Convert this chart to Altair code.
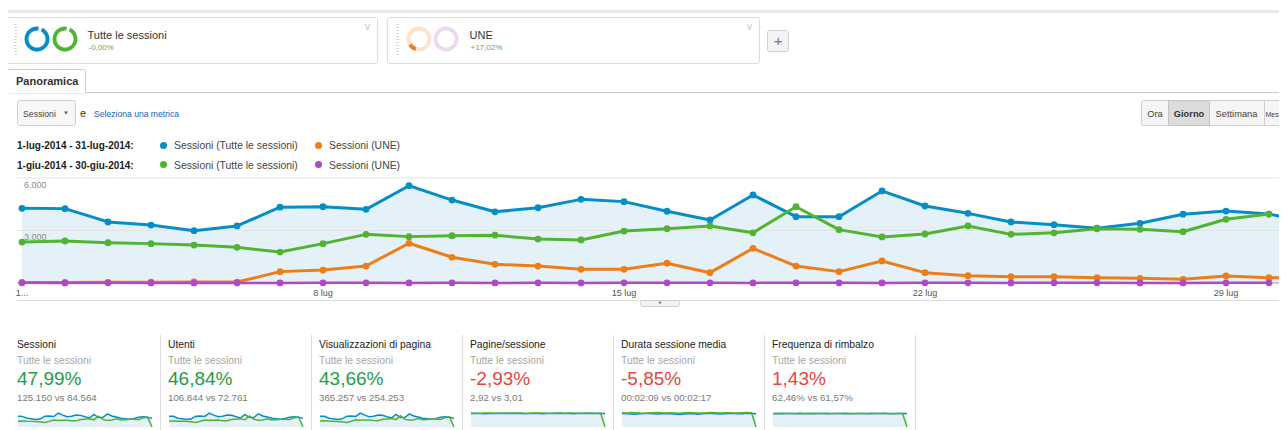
import altair as alt
import pandas as pd

# ---------------- data ----------------
DAYS = list(range(1, 32))

# Sessioni (Tutte le sessioni), 1-31 luglio 2014
SESS_JUL = [4270, 4250, 3490, 3310, 2990, 3260, 4330, 4360, 4210, 5560, 4740,
            4070, 4300, 4780, 4650, 4100, 3600, 5030, 3790, 3790, 5260, 4400,
            3980, 3490, 3330, 3130, 3410, 3930, 4110, 3940, 3440]
# Sessioni (Tutte le sessioni), 1-30 giugno 2014
SESS_JUN = [2340, 2400, 2300, 2250, 2170, 2040, 1770, 2250, 2780, 2650, 2700,
            2730, 2510, 2460, 2970, 3100, 3260, 2870, 4360, 3050, 2630, 2800,
            3260, 2780, 2870, 3100, 3070, 2930, 3640, 3940]
# Sessioni (UNE), luglio
UNE_JUL = [30, 35, 40, 50, 60, 55, 650, 740, 970, 2270, 1470, 1070, 970, 780,
           780, 1130, 590, 1980, 970, 650, 1260, 590, 420, 360, 360, 300, 270,
           210, 400, 300, 290]
# Sessioni (UNE), giugno
UNE_JUN = [8, 6, 9, 7, 5, 6, 4, 8, 10, 7, 9, 6, 8, 7, 9, 11, 8, 6, 12, 9, 7, 8,
           10, 7, 9, 8, 6, 7, 10, 9]

PERIODS = ["1-lug-2014 - 31-lug-2014:", "1-giu-2014 - 30-giu-2014:"]
SERIES = ["Sessioni (Tutte le sessioni)", "Sessioni (UNE)"]
Y_TICKS = [3000, 6000]
Y_TICK_LABELS = ["3.000", "6.000"]
X_TICKS = [1, 8, 15, 22, 29]
X_TICK_LABELS = ["1...", "8 lug", "15 lug", "22 lug", "29 lug"]

SEGMENTS = ["Tutte le sessioni", "UNE"]
SEGMENT_CHANGES = ["-0,00%", "+17,02%"]

CARD_TITLES = ["Sessioni", "Utenti", "Visualizzazioni di pagina",
               "Pagine/sessione", "Durata sessione media", "Frequenza di rimbalzo"]
CARD_PCTS = ["47,99%", "46,84%", "43,66%", "-2,93%", "-5,85%", "1,43%"]
CARD_VS = ["125.150 vs 84.564", "106.844 vs 72.761", "365.257 vs 254.253",
           "2,92 vs 3,01", "00:02:09 vs 00:02:17", "62,46% vs 61,57%"]
CARD_GOOD = [True, True, True, False, False, False]

# sparkline series (luglio / giugno; giugno has no 31st day -> 0)
USERS_JUL = [3640, 3620, 2980, 2820, 2550, 2780, 3690, 3720, 3590, 4740, 4040,
             3470, 3670, 4080, 3970, 3500, 3070, 4290, 3230, 3230, 4490, 3750,
             3390, 2980, 2840, 2670, 2910, 3350, 3510, 3360, 2930]
USERS_JUN = [2010, 2060, 1980, 1930, 1870, 1750, 1520, 1930, 2390, 2280, 2320,
             2350, 2160, 2120, 2550, 2670, 2800, 2470, 3750, 2620, 2260, 2410,
             2800, 2390, 2470, 2670, 2640, 2520, 3130, 3390, 0]
PV_JUL = [12470, 12410, 10190, 9670, 8730, 9520, 12640, 12730, 12290, 16240,
          13840, 11880, 12560, 13960, 13580, 11970, 10510, 14690, 11070, 11070,
          15360, 12850, 11620, 10190, 9720, 9140, 9960, 11480, 12000, 11500, 10040]
PV_JUN = [7040, 7220, 6920, 6770, 6530, 6140, 5330, 6770, 8370, 7980, 8130, 8220,
          7560, 7400, 8940, 9330, 9810, 8640, 13120, 9180, 7920, 8430, 9810, 8370,
          8640, 9330, 9240, 8820, 10960, 11860, 0]
PS_JUL = [2.95, 2.93, 2.90, 2.88, 2.91, 2.94, 2.96, 2.93, 2.90, 2.97, 2.94, 2.92,
          2.89, 2.91, 2.95, 2.93, 2.88, 2.90, 2.92, 2.94, 2.96, 2.93, 2.91, 2.89,
          2.90, 2.92, 2.95, 2.93, 2.90, 2.94, 2.91]
PS_JUN = [3.02, 3.00, 2.99, 3.01, 3.03, 3.00, 2.98, 3.01, 3.02, 3.00, 3.03, 3.01,
          2.99, 3.00, 3.02, 3.04, 3.01, 2.99, 3.00, 3.02, 3.01, 3.00, 3.03, 3.01,
          2.99, 3.00, 3.02, 3.01, 3.00, 3.02, 0]
DUR_JUL = [131, 128, 126, 124, 127, 130, 133, 129, 125, 128, 131, 127, 124, 122,
           126, 129, 127, 124, 128, 131, 133, 129, 126, 128, 131, 130, 127, 129,
           132, 130, 128]
DUR_JUN = [138, 136, 139, 137, 135, 134, 136, 138, 140, 137, 135, 138, 136, 134,
           137, 139, 138, 136, 135, 137, 139, 138, 136, 137, 138, 136, 135, 137,
           139, 138, 0]
BR_JUL = [62.1, 62.5, 62.8, 62.3, 62.0, 62.6, 62.9, 62.4, 62.2, 62.7, 62.5, 62.3,
          62.8, 62.6, 62.1, 62.4, 62.9, 62.5, 62.3, 62.6, 62.2, 62.4, 62.7, 62.5,
          62.3, 62.8, 62.6, 62.4, 62.2, 62.5, 62.6]
BR_JUN = [61.4, 61.7, 61.5, 61.8, 61.6, 61.3, 61.9, 61.5, 61.7, 61.4, 61.6, 61.8,
          61.5, 61.3, 61.7, 61.6, 61.4, 61.8, 61.5, 61.7, 61.6, 61.4, 61.5, 61.8,
          61.6, 61.7, 61.5, 61.4, 61.6, 61.7, 0]

SPARK_JUL = [SESS_JUL, USERS_JUL, PV_JUL, PS_JUL, DUR_JUL, BR_JUL]
SPARK_JUN = [SESS_JUN + [0], USERS_JUN, PV_JUN, PS_JUN, DUR_JUN, BR_JUN]
SPARK_MAX = [6000, 5100, 17500, 3.25, 145, 69]

# ---------------- styles ----------------
FONT = "Liberation Sans, Arial, Helvetica, sans-serif"
BLUE, ORANGE, GREEN, PURPLE = "#058dc7", "#ed7e17", "#50b432", "#af49c5"
AREA = "#e4f1f9"
GOOD, BAD = "#1f9e44", "#e8453c"
OX, OY = 8, 8  # page margin offset
ONE = pd.DataFrame({"k": [0]})


def T(s, x, y, size=10.0, color="#333333", weight="normal", align="left"):
    return alt.Chart(ONE).mark_text(
        text=s, font=FONT, fontSize=size, color=color, fontWeight=weight,
        align=align, baseline="alphabetic"
    ).encode(x=alt.value(x - OX), y=alt.value(y - OY))


def R(x1, y1, x2, y2, fill="#ffffff", stroke=None, sw=1.0, radius=0):
    kw = {"fill": fill, "cornerRadius": radius}
    if stroke:
        kw["stroke"] = stroke
        kw["strokeWidth"] = sw
    return alt.Chart(ONE).mark_rect(**kw).encode(
        x=alt.value(x1 - OX), x2=alt.value(x2 - OX),
        y=alt.value(y1 - OY), y2=alt.value(y2 - OY))


def HL(x1, x2, y, color, sw=1.0):
    return alt.Chart(ONE).mark_rule(color=color, strokeWidth=sw).encode(
        x=alt.value(x1 - OX), x2=alt.value(x2 - OX), y=alt.value(y - OY))


def VL(x, y1, y2, color, sw=1.0, dash=None):
    kw = {"color": color, "strokeWidth": sw}
    if dash:
        kw["strokeDash"] = dash
    return alt.Chart(ONE).mark_rule(**kw).encode(
        x=alt.value(x - OX), y=alt.value(y1 - OY), y2=alt.value(y2 - OY))


def RING(cx, cy, color, t1=0.45, t2=6.43, ro=12.5, ri=8.6):
    return alt.Chart(ONE).mark_arc(
        radius=ro, radius2=ri, theta=t1, theta2=t2, color=color
    ).encode(x=alt.value(cx - OX), y=alt.value(cy - OY))


def DOT(cx, cy, color, size=49):
    return alt.Chart(ONE).mark_circle(size=size, color=color, opacity=1).encode(
        x=alt.value(cx - OX), y=alt.value(cy - OY))


def TRI(cx, cy, color="#555555", size=16):
    return alt.Chart(ONE).mark_point(
        shape="triangle-down", filled=True, size=size, color=color, opacity=1
    ).encode(x=alt.value(cx - OX), y=alt.value(cy - OY))


chrome = []
# top band
chrome.append(R(0, 10, 1287, 13, fill="#e8e8e8"))
# segment boxes
for bx, name, chg in [(5.5, SEGMENTS[0], SEGMENT_CHANGES[0]),
                      (387.5, SEGMENTS[1], SEGMENT_CHANGES[1])]:
    chrome.append(R(bx, 17.5, bx + 372, 63.5, fill="#ffffff", stroke="#dcdcdc", radius=2))
    chrome.append(VL(bx + 10, 24, 57, "#d6d6d6", sw=3, dash=[1, 2]))
    chrome.append(T(name, bx + 82, 39, 11, "#333333"))
    chrome.append(T(chg, bx + 83, 50, 8, "#6aa84f"))
    chrome.append(T("v", bx + 362, 30, 10, "#c4c4c4", align="center"))
chrome += [RING(37, 39, BLUE), RING(65, 39, GREEN),
           RING(419, 39, "#fde3cc", 0, 6.2832), RING(419, 39, ORANGE, 3.45, 4.15),
           RING(446, 39, "#ecd8f1", 0, 6.2832)]
chrome.append(R(767.5, 30.5, 788.5, 51.5, fill="#f3f3f3", stroke="#d0d0d0", radius=2))
chrome.append(T("+", 778, 45.5, 15, "#777777", align="center"))
# tab
chrome.append(HL(0, 1287, 92.5, "#cccccc"))
chrome.append(R(7.5, 69.5, 85.5, 93, fill="#ffffff", stroke="#cccccc", radius=2))
chrome.append(HL(8, 85, 92.5, "#ffffff", sw=1.5))
chrome.append(T("Panoramica", 16, 85, 11, "#333333", weight="bold"))
# metric selector
chrome.append(R(17.5, 100.5, 75.5, 125.5, fill="#f7f7f7", stroke="#d0d0d0", radius=2))
chrome.append(T("Sessioni", 23, 116.5, 8.7, "#444444"))
chrome.append(TRI(66, 113, "#555555", 14))
chrome.append(T("e", 80, 116.5, 11, "#333333"))
chrome.append(T("Seleziona una metrica", 94, 116.5, 8.6, "#1a62b8"))
# period buttons
chrome.append(R(1141.5, 100.5, 1295, 125.5, fill="#f5f5f5", stroke="#cfcfcf", radius=2))
chrome.append(R(1168.5, 100.5, 1209.5, 125.5, fill="#dcdcdc", stroke="#c4c4c4"))
chrome.append(VL(1264.5, 100.5, 125.5, "#cfcfcf"))
chrome.append(T("Ora", 1155, 116.5, 9.3, "#444444", align="center"))
chrome.append(T("Giorno", 1189, 116.5, 9.3, "#333333", weight="bold", align="center"))
chrome.append(T("Settimana", 1236.5, 116.5, 9.3, "#444444", align="center"))
chrome.append(T("Mes", 1265.5, 116.5, 7.0, "#444444"))
# legend
chrome.append(T(PERIODS[0], 17, 149, 10, "#222222", weight="bold"))
chrome.append(T(PERIODS[1], 17, 168.5, 10, "#222222", weight="bold"))
chrome += [DOT(163.5, 145.5, BLUE), DOT(318.5, 145.5, ORANGE),
           DOT(163.5, 164.5, GREEN), DOT(318.5, 164.5, PURPLE)]
chrome.append(T(SERIES[0], 174, 149, 10.4, "#444444"))
chrome.append(T(SERIES[1], 329, 149, 10.4, "#444444"))
chrome.append(T(SERIES[0], 174, 168.5, 10.4, "#444444"))
chrome.append(T(SERIES[1], 329, 168.5, 10.4, "#444444"))
# chart footer separator + handle
chrome.append(HL(17, 1287, 300.5, "#dddddd"))
chrome.append(R(640.5, 300.5, 679.5, 306.5, fill="#f2f2f2", stroke="#d0d0d0", radius=2))
chrome.append(TRI(660, 303, "#666666", 10))
# metric cards
for i in range(6):
    x0 = 17 + 151 * i
    chrome.append(T(CARD_TITLES[i], x0, 348, 10.3, "#222222"))
    chrome.append(T("Tutte le sessioni", x0, 364, 10.3, "#a6a6a6"))
    chrome.append(T(CARD_PCTS[i], x0, 385, 19, GOOD if CARD_GOOD[i] else BAD))
    chrome.append(T(CARD_VS[i], x0, 401, 9.7, "#7a7a7a"))
    chrome.append(VL(160.5 + 151 * i, 335, 430, "#dddddd"))

# ---------------- main chart ----------------
xs = alt.Scale(domain=[1, 31], range=[22 - OX, 1312 - OX], nice=False, zero=False)
ys = alt.Scale(domain=[0, 6000], range=[283 - OY, 178 - OY], nice=False, zero=False)
XE = alt.X("day:Q", scale=xs, axis=None)
YE = alt.Y("v:Q", scale=ys, axis=None)

df_bj = pd.DataFrame({"day": DAYS, "v": SESS_JUL})
df_gj = pd.DataFrame({"day": DAYS[:30], "v": SESS_JUN})
df_oj = pd.DataFrame({"day": DAYS, "v": UNE_JUL})
df_pj = pd.DataFrame({"day": DAYS[:30], "v": UNE_JUN})
df_yt = pd.DataFrame({"v": Y_TICKS, "lab": Y_TICK_LABELS})
df_xt = pd.DataFrame({"day": X_TICKS, "lab": X_TICK_LABELS})


def series(df, color, sw=3.0, size=46):
    line = alt.Chart(df).mark_line(color=color, strokeWidth=sw, strokeJoin="round",
                                   strokeCap="round").encode(x=XE, y=YE)
    pts = alt.Chart(df).mark_circle(color=color, size=size, opacity=1).encode(x=XE, y=YE)
    return [line, pts]


main_layers = [
    alt.Chart(df_bj).mark_area(color=AREA, opacity=1).encode(x=XE, y=YE),
    alt.Chart(df_yt).mark_rule(color="#e3e3e3", strokeWidth=1).encode(
        y=alt.Y("v:Q", scale=ys, axis=None), x=alt.value(17 - OX), x2=alt.value(1287 - OX)),
    alt.Chart(pd.DataFrame({"v": [0]})).mark_rule(color="#9a9a9a", strokeWidth=1).encode(
        y=alt.Y("v:Q", scale=ys, axis=None), x=alt.value(17 - OX), x2=alt.value(1287 - OX)),
    alt.Chart(df_yt).mark_text(font=FONT, fontSize=9, color="#8a8a8a", align="left",
                               baseline="alphabetic", dy=9.5).encode(
        y=alt.Y("v:Q", scale=ys, axis=None), x=alt.value(24 - OX), text="lab:N"),
    alt.Chart(df_xt).mark_text(font=FONT, fontSize=9, color="#555555", align="center",
                               baseline="alphabetic").encode(
        x=XE, y=alt.value(296 - OY), text="lab:N"),
]
main_layers += series(df_bj, BLUE)
main_layers += series(df_oj, ORANGE)
main_layers += series(df_gj, GREEN)
main_layers += series(df_pj, PURPLE, sw=2.5)
main = alt.layer(*main_layers)

# ---------------- sparklines ----------------
sparks = []
for i in range(6):
    x0 = 17 + 151 * i
    sx = alt.Scale(domain=[1, 31], range=[x0 + 1 - OX, x0 + 135 - OX], nice=False, zero=False)
    sy = alt.Scale(domain=[0, SPARK_MAX[i]], range=[427 - OY, 412 - OY], nice=False, zero=False)
    sxe = alt.X("day:Q", scale=sx, axis=None)
    sye = alt.Y("v:Q", scale=sy, axis=None)
    d1 = pd.DataFrame({"day": DAYS, "v": SPARK_JUL[i]})
    d2 = pd.DataFrame({"day": DAYS, "v": SPARK_JUN[i]})
    sparks.append(alt.layer(
        alt.Chart(d1).mark_area(color=AREA, opacity=1).encode(x=sxe, y=sye),
        alt.Chart(d1).mark_line(color=BLUE, strokeWidth=1.5).encode(x=sxe, y=sye),
        alt.Chart(d2).mark_line(color=GREEN, strokeWidth=1.5).encode(x=sxe, y=sye),
    ))

chart = alt.layer(*chrome, main, *sparks).resolve_scale(
    x="independent", y="independent"
).properties(
    width=1271, height=422, padding=0,
    autosize=alt.AutoSizeParams(type="none"),
    background="#ffffff",
).configure_view(stroke=None)

chart.save("out.html", embed_options={"renderer": "svg", "actions": False})
